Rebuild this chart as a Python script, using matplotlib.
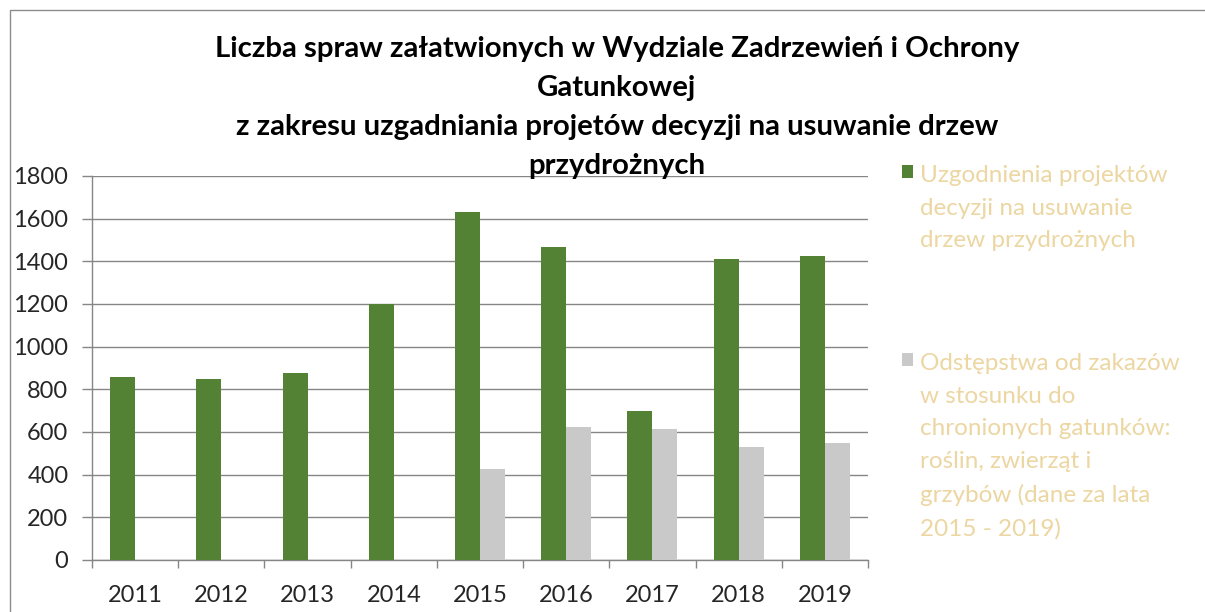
import numpy as np
import matplotlib
matplotlib.use("Agg")
import matplotlib.pyplot as plt
from matplotlib.patches import Rectangle

years = ["2011", "2012", "2013", "2014", "2015", "2016", "2017", "2018", "2019"]
uzgodnienia = [859, 847, 878, 1198, 1633, 1466, 697, 1411, 1423]
odstepstwa = [np.nan, np.nan, np.nan, np.nan, 427, 625, 612, 530, 547]
y_ticks = [0, 200, 400, 600, 800, 1000, 1200, 1400, 1600, 1800]

title = ("Liczba spraw załatwionych w Wydziale Zadrzewień i Ochrony\n"
         "Gatunkowej\n"
         "z zakresu uzgadniania projetów decyzji na usuwanie drzew\n"
         "przydrożnych")
label_green = "Uzgodnienia projektów\ndecyzji na usuwanie\ndrzew przydrożnych"
label_gray = ("Odstępstwa od zakazów\nw stosunku do\nchronionych gatunków:\n"
              "roślin, zwierząt i\ngrzybów (dane za lata\n2015 - 2019)")

GREEN = "#548235"
GRAY = "#c9c9c9"
GRID = "#868686"
TEXT = "#262626"
LEGEND_TEXT = "#ecd6a2"

plt.rcParams["font.family"] = ["Lato", "DejaVu Sans"]

fig = plt.figure(figsize=(12.05, 6.12), dpi=100)
ax = fig.add_axes([92 / 1205, 1 - 560 / 612, 776 / 1205, 384 / 612])

x = np.arange(len(years))
width = 0.29
ax.bar(x - 0.145, uzgodnienia, width, color=GREEN, zorder=3)
ax.bar(x + 0.145, odstepstwa, width, color=GRAY, zorder=3)

ax.set_xlim(-0.5, len(years) - 0.5)
ax.set_ylim(0, 1800)
ax.set_yticks(y_ticks)
ax.set_yticklabels([str(v) for v in y_ticks])
ax.yaxis.grid(True, color=GRID, linewidth=1.0, zorder=0)
ax.set_axisbelow(True)

# year labels in the middle, tick marks on the category borders
ax.set_xticks(x)
ax.set_xticklabels(years)
ax.set_xticks(np.arange(-0.5, len(years)), minor=True)
ax.tick_params(axis="x", which="major", length=0, pad=18,
               labelsize=17, labelcolor=TEXT)
ax.tick_params(axis="x", which="minor", length=6, width=1.0, color=GRID,
               direction="out")
ax.tick_params(axis="y", length=7, width=1.0, color=GRID, direction="out",
               labelsize=17, labelcolor=TEXT, pad=10)

for side in ("top", "right"):
    ax.spines[side].set_visible(False)
for side in ("left", "bottom"):
    ax.spines[side].set_color(GRID)
    ax.spines[side].set_linewidth(1.0)

fig.text(617 / 1205, 1 - 36 / 612, title, ha="center", va="top",
         fontsize=21.2, fontweight="bold", color="black", linespacing=1.62)

# outer chart border (only left and top visible in the crop)
fig.patches.append(Rectangle((10 / 1205, -0.1), 1.2, 1 - 10 / 612 + 0.1,
                             transform=fig.transFigure, fill=False,
                             edgecolor="#8c8c8c", linewidth=1.0))


def add_legend_entry(color, label, top_px):
    handle = Rectangle((0, 0), 1, 1, facecolor=color, edgecolor="none")
    leg = fig.legend([handle], [label], loc="upper left",
                     bbox_to_anchor=(902 / 1205, 1 - top_px / 612),
                     frameon=False, fontsize=17.5, labelcolor=LEGEND_TEXT,
                     handlelength=0.45, handleheight=0.45, handletextpad=0.3,
                     borderpad=0, borderaxespad=0)
    for t in leg.get_texts():
        t.set_linespacing(1.68)
    # put the square next to the first line, like the original
    for col in leg._legend_handle_box.get_children():
        for row in col.get_children():
            row.align = "top"
    return leg


add_legend_entry(GREEN, label_green, 165)
add_legend_entry(GRAY, label_gray, 353)

fig.savefig("out.png", dpi=100, facecolor="white")
